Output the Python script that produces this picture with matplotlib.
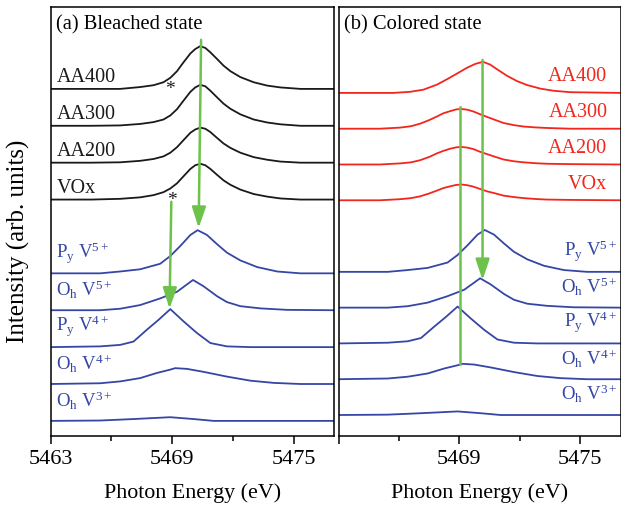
import matplotlib
matplotlib.use('Agg')
import matplotlib.pyplot as plt
import numpy as np

plt.rcParams['font.family'] = ['Liberation Serif', 'DejaVu Serif']
plt.rcParams['mathtext.fontset'] = 'custom'
plt.rcParams['mathtext.rm'] = 'Liberation Serif'
plt.rcParams['mathtext.it'] = 'Liberation Serif:italic'

# ---- data (intensity in arb. units) ----
# panel (a), black: bleached films
black_e = [5463, 5465, 5466.43, 5467.42, 5468.08, 5468.57, 5468.91, 5469.24,
           5469.56, 5469.9, 5470.14, 5470.39, 5470.64, 5470.89, 5471.22,
           5471.54, 5471.88, 5472.37, 5473.03, 5473.69, 5474.35, 5475.34, 5477]
aa400_b = [0, 0, 0, 0.05, 0.10, 0.18, 0.30, 0.48, 0.72, 0.96, 1.08, 1.16,
           1.11, 0.99, 0.81, 0.63, 0.48, 0.32, 0.18, 0.09, 0.04, 0, 0]
aa300_b = [0, 0, 0.01, 0.05, 0.10, 0.17, 0.28, 0.45, 0.68, 0.92, 1.04, 1.11,
           1.07, 0.95, 0.77, 0.60, 0.46, 0.31, 0.17, 0.09, 0.04, 0, 0]
aa200_b = [0, 0, 0.01, 0.05, 0.10, 0.17, 0.27, 0.42, 0.61, 0.81, 0.90, 0.95,
           0.92, 0.83, 0.67, 0.52, 0.40, 0.27, 0.15, 0.08, 0.03, 0, 0]
vox_b = [0, 0, 0.02, 0.06, 0.12, 0.20, 0.30, 0.44, 0.63, 0.83, 0.93, 0.97,
         0.93, 0.83, 0.67, 0.52, 0.40, 0.27, 0.15, 0.08, 0.03, 0, 0]

# panel (b), red: colored films
red400_e = [5463, 5464.06, 5465.72, 5466.55, 5467.21, 5467.88, 5468.38,
            5468.88, 5469.37, 5469.79, 5470.17, 5470.53, 5470.87, 5471.36,
            5471.86, 5472.36, 5473.02, 5473.68, 5474.5, 5477]
aa400_c = [0, 0, 0, 0.03, 0.09, 0.23, 0.38, 0.54, 0.70, 0.81, 0.87, 0.79,
           0.66, 0.48, 0.33, 0.22, 0.12, 0.06, 0.02, 0]
red_e = [5463, 5465.06, 5466.05, 5466.6, 5467.05, 5467.5, 5467.88, 5468.2,
         5468.54, 5468.85, 5469.12, 5469.4, 5469.7, 5470.0, 5470.37, 5470.8,
         5471.19, 5471.7, 5472.19, 5472.8, 5473.35, 5474.5, 5477]
aa300_c = [0, 0, 0.03, 0.07, 0.14, 0.24, 0.34, 0.43, 0.49, 0.54, 0.55, 0.53,
           0.48, 0.41, 0.33, 0.24, 0.16, 0.10, 0.06, 0.035, 0.02, 0, 0]
aa200_c = [0, 0, 0.03, 0.06, 0.12, 0.21, 0.31, 0.38, 0.44, 0.48, 0.49, 0.47,
           0.43, 0.36, 0.29, 0.21, 0.14, 0.09, 0.06, 0.035, 0.02, 0.01, 0]
vox_c = [0, 0, 0.03, 0.06, 0.11, 0.19, 0.27, 0.34, 0.39, 0.43, 0.44, 0.42,
         0.38, 0.32, 0.25, 0.19, 0.13, 0.09, 0.06, 0.035, 0.02, 0.01, 0]

# reference spectra (blue), same in both panels
py5_e = [5463, 5465.44, 5466.43, 5467.42, 5468.41, 5468.91, 5469.4, 5469.9,
         5470.26, 5470.72, 5471.22, 5471.71, 5472.37, 5473.2, 5474.19,
         5475.34, 5477]
py5 = [0, 0, 0.05, 0.11, 0.26, 0.47, 0.74, 1.04, 1.17, 1.04, 0.79, 0.56,
       0.35, 0.17, 0.05, 0, 0]
oh5_e = [5463, 5465.44, 5466.43, 5467.42, 5468.41, 5469.24, 5470.03,
         5470.55, 5471.22, 5471.71, 5472.37, 5473.36, 5474.68, 5477]
oh5 = [0, 0, 0.04, 0.14, 0.32, 0.50, 0.82, 0.65, 0.38, 0.22, 0.11, 0.05,
       0.01, 0]
py4_e = [5463, 5465.44, 5466.43, 5467.09, 5467.75, 5468.33, 5468.91,
         5469.56, 5470.23, 5470.89, 5471.71, 5472.87, 5477]
py4 = [0, 0.02, 0.06, 0.15, 0.47, 0.74, 1.03, 0.70, 0.38, 0.11, 0.02, 0, 0]
oh4_e = [5463, 5465.44, 5466.43, 5467.42, 5468.25, 5468.91, 5469.15,
         5469.73, 5470.55, 5471.71, 5472.87, 5474.02, 5475.34, 5477]
oh4 = [0, 0.02, 0.07, 0.16, 0.30, 0.39, 0.43, 0.41, 0.33, 0.20, 0.09,
       0.03, 0, 0]
oh3_e = [5463, 5465.44, 5467.09, 5468.91, 5470.06, 5471.05, 5477]
oh3 = [0, 0.01, 0.05, 0.10, 0.05, 0, 0]

black_names = ['VOx', 'AA200', 'AA300', 'AA400']
blue_names = [r'O$_\mathregular{h}$ V$^\mathregular{3+}$',
              r'O$_\mathregular{h}$ V$^\mathregular{4+}$',
              r'P$_\mathregular{y}$ V$^\mathregular{4+}$',
              r'O$_\mathregular{h}$ V$^\mathregular{5+}$',
              r'P$_\mathregular{y}$ V$^\mathregular{5+}$']
blue_shift = [0, 1, 2, 3, 4]
film_shift = [6, 7, 8, 9]

# ---- style ----
BLACK = '#1a1a1a'
RED = '#f2261c'
BLUE = '#3546a5'
GREEN = '#6cc24a'

fig = plt.figure(figsize=(6.21, 5.08), dpi=100)
ax1 = fig.add_axes([0.0816, 0.1417, 0.4564, 0.8445])
ax2 = fig.add_axes([0.5452, 0.1417, 0.4540, 0.8445])

blue_curves = [(oh3_e, oh3), (oh4_e, oh4), (py4_e, py4), (oh5_e, oh5), (py5_e, py5)]

# panel (a)
for (e, y), off in zip(blue_curves, blue_shift):
    ax1.plot(e, np.array(y) + off, color=BLUE, lw=1.3)
for y, off, name in zip([vox_b, aa200_b, aa300_b, aa400_b], film_shift, black_names):
    ax1.plot(black_e, np.array(y) + off, color=BLACK, lw=1.3)
    ax1.text(5463.3, off + 0.3, name, fontsize=14.5, color=BLACK, va='center', ha='left')
for off, name in zip(blue_shift, blue_names):
    ax1.text(5463.25, off + 0.55, name, fontsize=13.5, color=BLUE, va='center', ha='left')

ax1.text(5468.87, 8.98, '*', fontsize=14, ha='center', va='center', color=BLACK)
ax1.text(5468.99, 5.98, '*', fontsize=14, ha='center', va='center', color=BLACK)

arrow = dict(arrowstyle='-|>,head_length=0.9,head_width=0.3', color=GREEN,
             lw=1.8, mutation_scale=14, shrinkA=0, shrinkB=0)
ax1.annotate('', xy=(5470.31, 5.23), xytext=(5470.43, 10.33), arrowprops=arrow)
ax1.annotate('', xy=(5468.87, 3.04), xytext=(5468.96, 5.94), arrowprops=arrow)
ax1.text(0.02, 0.958, '(a) Bleached state', transform=ax1.transAxes,
         fontsize=14.8, va='center', ha='left')
ax1.set_ylim(-0.41, 11.22)

# panel (b)
for (e, y), off in zip(blue_curves, blue_shift):
    ax2.plot(e, np.array(y) + off, color=BLUE, lw=1.3)
for (e, y), off, name in zip([(red_e, vox_c), (red_e, aa200_c), (red_e, aa300_c),
                              (red400_e, aa400_c)], film_shift, black_names):
    ax2.plot(e, np.array(y) + off, color=RED, lw=1.3)
    ax2.text(5476.35, off + 0.45, name, fontsize=14.5, color=RED, va='center', ha='right')
for off, name in zip(blue_shift, blue_names):
    ax2.text(5476.85, off + 0.58, name, fontsize=13.5, color=BLUE, va='center', ha='right')

ax2.annotate('', xy=(5470.15, 3.77), xytext=(5470.15, 9.92), arrowprops=arrow)
ax2.plot([5469.04, 5469.04], [1.43, 8.61], color=GREEN, lw=1.8)
ax2.text(0.02, 0.958, '(b) Colored state', transform=ax2.transAxes,
         fontsize=14.8, va='center', ha='left')
ax2.set_ylim(-0.587, 11.40)

for ax in (ax1, ax2):
    ax.set_xlim(5463, 5477)
    ax.set_xticks([5463, 5469, 5475])
    ax.set_xticks([5466, 5472], minor=True)
    ax.set_yticks([])
    ax.tick_params(axis='x', which='major', direction='out', length=6, width=1.1,
                   labelsize=16, pad=4)
    ax.tick_params(axis='x', which='minor', direction='out', length=3.5, width=1.1)
    ax.set_xlabel('Photon Energy (eV)', fontsize=15.8, labelpad=10)
    for s in ax.spines.values():
        s.set_linewidth(1.1)
ax2.set_xticklabels(['', '5469', '5475'])

fig.text(18 / 621, 1 - 241 / 508, 'Intensity (arb. units)', rotation=90,
         fontsize=18, ha='center', va='center')

fig.savefig('out.png', dpi=100)
